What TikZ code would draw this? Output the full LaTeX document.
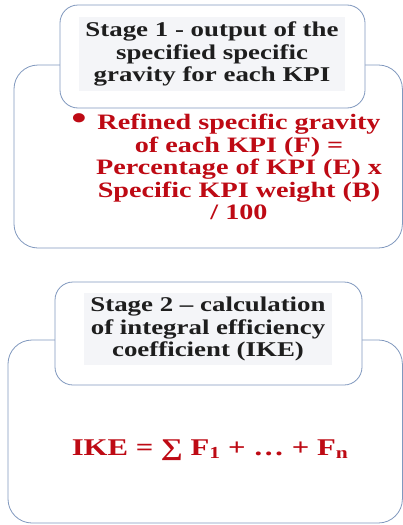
\documentclass[tikz,border=0pt]{standalone}
\usepackage{fontspec}
\setmainfont[FakeStretch=1.28]{Liberation Serif}
\usepackage{xcolor}
\usetikzlibrary{positioning}
\definecolor{myblue}{RGB}{128,152,190}
\definecolor{myred}{RGB}{190,10,20}
\definecolor{mygray}{RGB}{30,30,30}
\definecolor{myback}{RGB}{244,245,248}

\begin{document}
\begin{tikzpicture}[x=1pt,y=-1pt,
  bigbox/.style={draw=myblue, line width=0.8pt, rounded corners=24pt, fill=white},
  headbox/.style={draw=myblue, line width=0.8pt, rounded corners=18pt, fill=white},
  headtext/.style={font=\fontsize{21}{22.8}\selectfont\bfseries, text=mygray,
    align=center, fill=myback, inner xsep=6pt, inner ysep=4pt},
  redtext/.style={font=\fontsize{22}{22.5}\selectfont\bfseries, text=myred, align=center}
]
\useasboundingbox (0,0) rectangle (403,525);

 %stage 1
 \draw[bigbox] (14,65) rectangle (402.4,248);
 \draw[headbox] (60,5) rectangle (365,108);
 \node[headtext] (head1) at (212,54) {Stage 1 - output of the\\specified specific\\gravity for each KPI};

 \node[redtext] (rule1) at (239,167) {Refined specific gravity\\of each KPI (F) =\\Percentage of KPI (E) x\\Specific KPI weight (B)\\/ 100};
 \node[redtext, font=\fontsize{34}{34}\selectfont\bfseries, inner sep=0pt] (dot1) at (79,122) {•};

 %stage 2
 \draw[bigbox] (8,340) rectangle (402.4,523);
 \draw[headbox] (55,282) rectangle (362,385);
 \node[headtext] (head2) at (208,329) {Stage 2 – calculation\\of integral efficiency\\coefficient (IKE)};

 \node[redtext, font=\fontsize{24}{28}\selectfont\bfseries, anchor=base] (rule2) at (210,455)
   {IKE = ∑ F\textsubscript{1} + … + F\textsubscript{n}};

\end{tikzpicture}
\end{document}
